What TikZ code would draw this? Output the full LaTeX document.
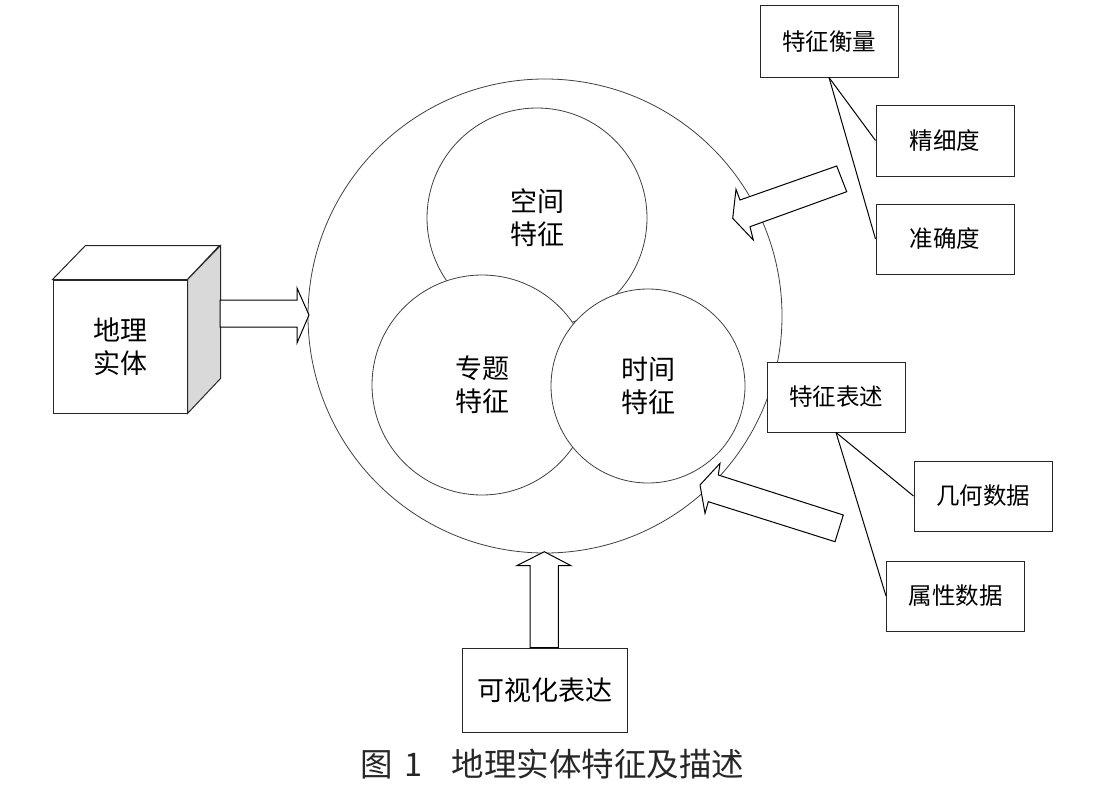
\documentclass[tikz,border=0pt]{standalone}
\usepackage{fontspec}
\newfontfamily\cjk{Noto Sans CJK SC}
\tikzset{
  big/.style={font=\cjk\fontsize{27}{33}\selectfont, align=center},
  ring/.style={circle, draw=black!75, line width=0.8pt, fill=white, inner sep=0pt},
  tbox/.style={draw=black!85, line width=1pt, fill=white, minimum width=138pt, minimum height=70pt, inner sep=0pt, font=\cjk\fontsize{23.5}{28}\selectfont},
  link/.style={draw=black, line width=1pt},
  barrow/.style={draw=black, line width=1pt, fill=white, line join=miter},
}
\begin{document}
\begin{tikzpicture}[x=1pt,y=-1pt]
\useasboundingbox (0,0) rectangle (1116,800);
% big circle and inner circles
\node[ring, minimum size=474pt] (outer) at (545,316) {};
\node[ring, big, minimum size=220pt] (spa) at (537,218) {空间\\特征};
\node[ring, big, minimum size=220pt] (the) at (482,385) {专题\\特征};
\node[ring, big, minimum size=194pt] (tim) at (648,386) {时间\\特征};
% cube
\node[draw=black!85, line width=1pt, fill=white, minimum width=134pt, minimum height=133pt, inner sep=0pt, big] (cube) at (120,346.5) {地理\\实体};
\draw[draw=black!85, line width=1pt, fill=white, line join=miter] (cube.north west) -- ++(33,-34) -- ++(134,0) -- (cube.north east) -- cycle;
\draw[draw=black!85, line width=1pt, fill=black!15, line join=miter] (cube.north east) -- ++(33,-34) -- ++(0,133) -- (cube.south east) -- cycle;
% arrow from cube to outer circle
\coordinate (a1) at (309,315);
\draw[barrow] (220,300) -- (297,300) -- (297,288) -- (a1) -- (297,343) -- (297,327) -- (220,327) -- cycle;
% boxes
\node[tbox, minimum height=71pt] (m) at (829,41.5) {特征衡量};
\node[tbox, minimum height=71pt] (m1) at (945,140.5) {精细度};
\node[tbox] (m2) at (945,239) {准确度};
\node[tbox] (d) at (836,397) {特征表述};
\node[tbox] (d1) at (983,496) {几何数据};
\node[tbox] (d2) at (955.5,596) {属性数据};
\node[tbox, minimum width=165pt, minimum height=84pt, font=\cjk\fontsize{27}{33}\selectfont] (v) at (544.5,690) {可视化表达};
\draw[link] (m.south) -- (m1.west);
\draw[link] (m.south) -- (m2.west);
\draw[link] (d.south) -- (d1.west);
\draw[link] (d.south) -- (d2.west);
% block arrows
\draw[barrow] (836.7,166) -- (846.7,191.7) -- (750,226.7) -- (753.3,240) -- (732.7,218.3) -- (736,189.3) -- (740,200) -- cycle;
\draw[barrow] (700,485) -- (720,463.3) -- (718.3,475) -- (843.3,515) -- (835,541.7) -- (708.3,501.7) -- (705,513.3) -- cycle;
\draw[barrow] (v.north -| 530,0) -- (530,565.7) -- (516.7,565.7) -- (544.3,551.7) -- (571,565.7) -- (558.3,565.7) -- (v.north -| 558.3,0) -- cycle;
% caption
\node[font=\cjk\fontsize{32.5}{36}\selectfont, text=black!85, inner sep=0pt] (cap) at (552.5,764) {图\hspace{0.35em}1\hspace{0.9em}地理实体特征及描述};
\end{tikzpicture}
\end{document}
